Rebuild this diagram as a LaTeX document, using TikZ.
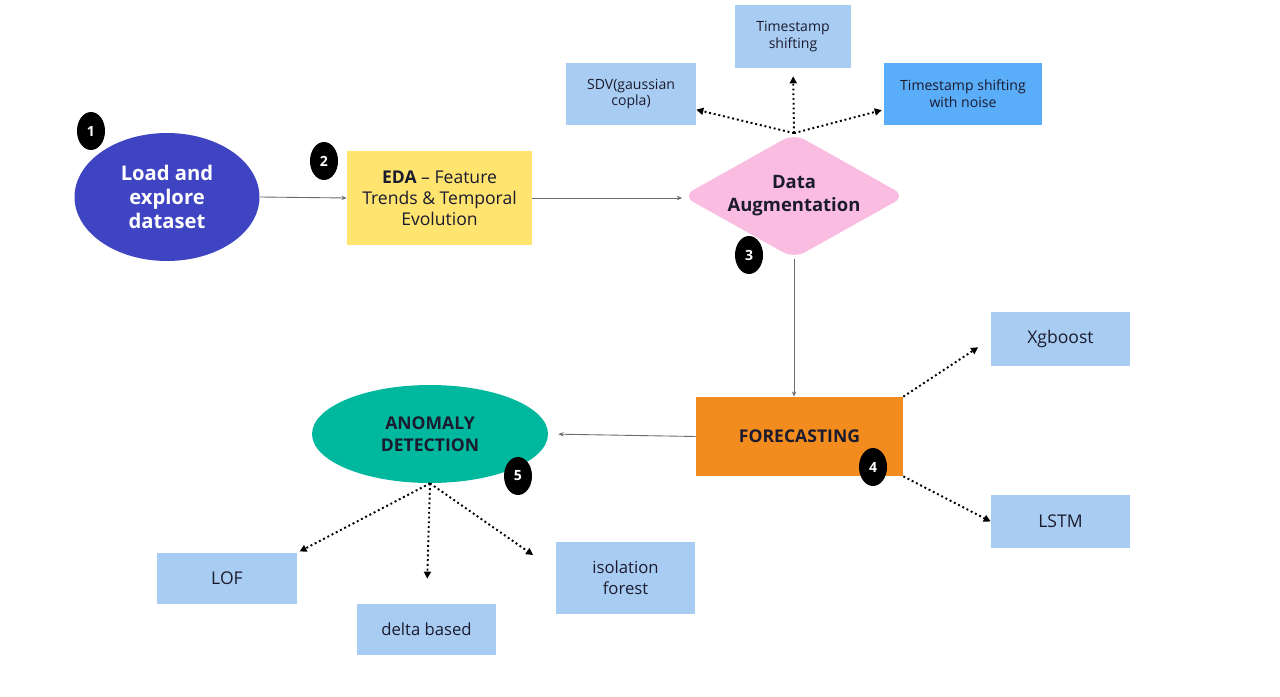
\documentclass[tikz,border=0pt]{standalone}
\usepackage{fontspec}
\setmainfont{Open Sans}
\usetikzlibrary{shapes.geometric,arrows.meta,positioning,calc}
\definecolor{loadblue}{HTML}{3F44C2}
\definecolor{edayellow}{HTML}{FFE470}
\definecolor{augpink}{HTML}{FBBCE2}
\definecolor{paleblue}{HTML}{A9CDF2}
\definecolor{midblue}{HTML}{5AADF9}
\definecolor{fcorange}{HTML}{F28C1E}
\definecolor{anteal}{HTML}{00B89D}
\definecolor{darktext}{HTML}{1B1B2F}
\definecolor{linegray}{HTML}{6B6B6B}
\tikzset{
  methodbox/.style={rectangle, fill=paleblue, align=center, inner sep=2pt, text=darktext},
  badge/.style={ellipse, fill=black, minimum width=0.56cm, minimum height=0.76cm, inner sep=0pt, text=white, font=\fontsize{8}{9}\selectfont\bfseries},
  flow/.style={draw=linegray, line width=0.5pt, -{Stealth[length=3pt,width=2.5pt]}},
  branch/.style={draw=black, dash pattern=on 1.1pt off 1.6pt, line width=1.1pt, -{Triangle[length=4pt,width=4pt]}},
}

\begin{document}
\begin{tikzpicture}[x=0.02cm,y=-0.02cm]
\useasboundingbox[fill=white] (0,0) rectangle (1280,696);
% Pipeline steps
\node[ellipse, fill=loadblue, minimum width=3.7cm, minimum height=2.56cm, align=center, text=white, font=\fontsize{11.5}{13.6}\selectfont\bfseries] (load) at (167,197) {Load and\\explore\\dataset};
\node[rectangle, fill=edayellow, minimum width=3.7cm, minimum height=1.88cm, align=center, text=darktext, font=\fontsize{10}{12}\selectfont] (eda) at (439.5,198) {\textbf{EDA} -- Feature\\Trends \& Temporal\\Evolution};
\node[diamond, aspect=1.8, fill=augpink, minimum width=4.46cm, minimum height=2.5cm, rounded corners=7pt, inner sep=0pt, align=center, text=darktext, font=\fontsize{10.5}{13}\selectfont\bfseries] (aug) at (794,196) {Data\\Augmentation};
\node[rectangle, fill=fcorange, minimum width=4.14cm, minimum height=1.58cm, align=center, text=darktext, font=\fontsize{10}{12}\selectfont\bfseries] (fc) at (799.5,436.5) {FORECASTING};
\node[ellipse, fill=anteal, minimum width=4.72cm, minimum height=1.96cm, align=center, text=darktext, font=\fontsize{10}{12.5}\selectfont\bfseries] (anom) at (430,434) {ANOMALY\\DETECTION};
% Step numbers
\node[badge] (b1) at (91,131) {1};
\node[badge] (b2) at (324,161) {2};
\node[badge] (b3) at (749,255) {3};
\node[badge] (b4) at (873,467) {4};
\node[badge] (b5) at (518,476) {5};
% Augmentation methods
\node[methodbox, minimum width=2.6cm, minimum height=1.24cm, font=\fontsize{8}{9.6}\selectfont] (sdv) at (631,94) {SDV(gaussian\\copla)};
\node[methodbox, minimum width=2.32cm, minimum height=1.26cm, font=\fontsize{8}{9.6}\selectfont] (tss) at (793,36.5) {Timestamp\\shifting};
\node[methodbox, fill=midblue, minimum width=3.16cm, minimum height=1.24cm, font=\fontsize{8}{9.6}\selectfont] (tsn) at (963,94) {Timestamp shifting\\with noise};
% Forecasting models
\node[methodbox, minimum width=2.78cm, minimum height=1.08cm, font=\fontsize{10}{12}\selectfont] (xgb) at (1060.5,339) {Xgboost};
\node[methodbox, minimum width=2.78cm, minimum height=1.06cm, font=\fontsize{10}{12}\selectfont] (lstm) at (1060.5,521.5) {LSTM};
% Anomaly methods
\node[methodbox, minimum width=2.8cm, minimum height=1.02cm, font=\fontsize{10}{12}\selectfont] (lof) at (227,578.5) {LOF};
\node[methodbox, minimum width=2.78cm, minimum height=1.02cm, font=\fontsize{9.5}{12}\selectfont] (delta) at (426.5,629.5) {delta based};
\node[methodbox, minimum width=2.78cm, minimum height=1.44cm, font=\fontsize{9.5}{12}\selectfont] (iso) at (625.5,578) {isolation\\forest};
% Main flow
\draw[flow] (load.east) -- (eda.west);
\draw[flow] (eda.east) -- (eda.east -| aug.west);
\draw[flow] (aug.south) -- (aug.south |- fc.north);
\draw[flow, shorten >=0.2cm] (fc.west) -- (anom.east);
% Branches
\draw[branch] (aug.north) -- ($(sdv.south east)!0.25!(sdv.north east)$);
\draw[branch, shorten >=0.16cm] (aug.north) -- (tss.south);
\draw[branch, shorten >=0.04cm] (aug.north) -- ($(tsn.south west)!0.25!(tsn.north west)$);
\draw[branch, shorten >=0.3cm] (fc.north east) -- (xgb.west);
\draw[branch] (fc.south east) -- (lstm.west);
\draw[branch, shorten >=0.05cm] (anom.south) -- (lof.north east);
\draw[branch, shorten >=0.5cm] (anom.south) -- (delta.north);
\draw[branch, shorten >=0.55cm] (anom.south) -- ($(iso.north west)!0.4!(iso.south west)$);
\end{tikzpicture}
\end{document}
